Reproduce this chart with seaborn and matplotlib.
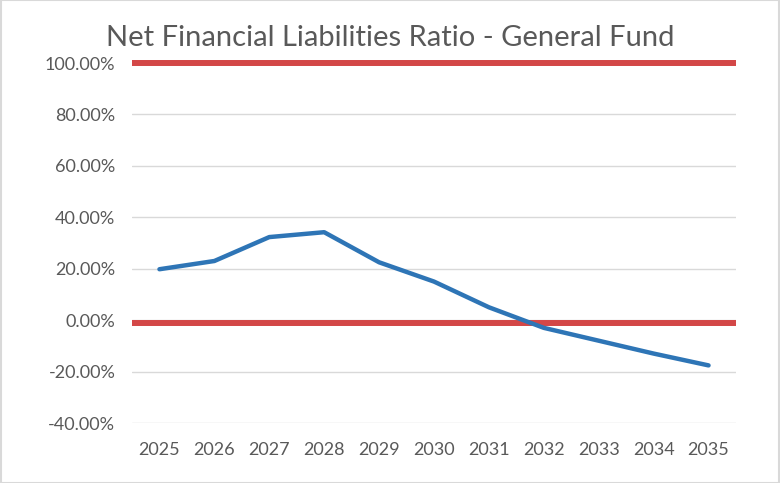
import matplotlib
matplotlib.use("Agg")
import matplotlib.pyplot as plt
import matplotlib.ticker as mticker
from matplotlib.patches import Rectangle
import seaborn as sns
import pandas as pd

years = [2025, 2026, 2027, 2028, 2029, 2030, 2031, 2032, 2033, 2034, 2035]
ratio = [19.8, 23.0, 32.3, 34.2, 22.5, 15.0, 5.0, -3.0, -8.0, -13.0, -17.6]
thresholds = [100.0, -1.0]
y_ticks = [-40, -20, 0, 20, 40, 60, 80, 100]
title = "Net Financial Liabilities Ratio - General Fund"

sns.set_theme(style="white")
plt.rcParams["font.family"] = ["Lato", "DejaVu Sans"]

df = pd.DataFrame({"year": years, "ratio": ratio})

fig = plt.figure(figsize=(7.8, 4.83), dpi=100)
ax = fig.add_axes([132 / 780, 1 - 423 / 483, (736 - 132) / 780, (423 - 63) / 483])

for t in y_ticks:
    ax.axhline(t, color="#d9d9d9", lw=1.0, zorder=1)

sns.lineplot(data=df, x="year", y="ratio", ax=ax, color="#2E75B6", lw=3.2,
             solid_joinstyle="round", solid_capstyle="round", zorder=3)

for t in thresholds:
    ax.axhline(t, color="#D34747", lw=4.3, zorder=2, clip_on=False,
               solid_capstyle="butt")

ax.set_xlim(years[0] - 0.5, years[-1] + 0.5)
ax.set_ylim(-40, 100)
ax.set_xticks(years)
ax.set_xticklabels([str(y) for y in years])
ax.set_yticks(y_ticks)
ax.yaxis.set_major_formatter(mticker.FuncFormatter(lambda v, p: f"{v:.2f}%"))
ax.tick_params(axis="both", length=0, labelsize=13, labelcolor="#595959")
ax.tick_params(axis="y", pad=12)
ax.tick_params(axis="x", pad=14)
ax.set_xlabel("")
ax.set_ylabel("")
for s in ax.spines.values():
    s.set_visible(False)

fig.text(0.5, 1 - 38 / 483, title, ha="center", va="center", fontsize=21,
         color="#595959")

fig.patches.append(Rectangle((0.001, 0.001), 0.998, 0.998, transform=fig.transFigure,
                             fill=False, edgecolor="#d9d9d9", lw=1.5))

fig.savefig("out.png", dpi=100)
